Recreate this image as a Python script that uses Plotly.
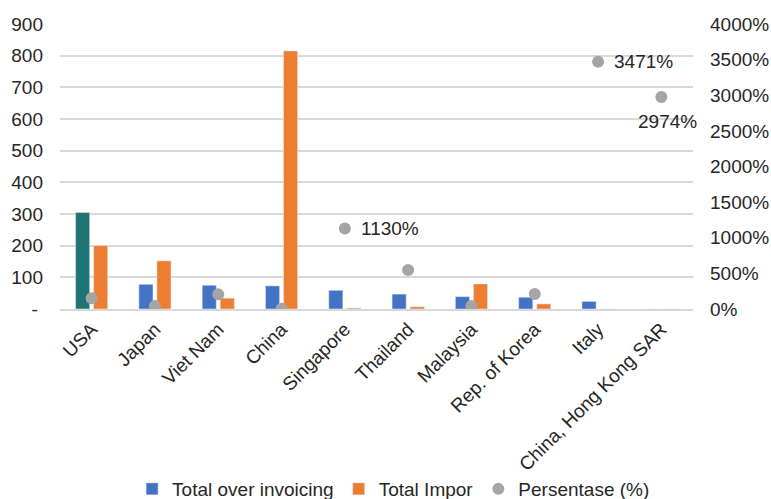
import plotly.graph_objects as go

categories = ["USA", "Japan", "Viet Nam", "China", "Singapore", "Thailand",
              "Malaysia", "Rep. of Korea", "Italy", "China, Hong Kong SAR"]
over_invoicing = [305, 78, 75, 73, 59, 47, 39, 37, 24, 0]
total_impor = [200, 152, 34, 815, 3, 7, 79, 16, 0, 0]
persentase = [150, 42, 206, 4, 1130, 547, 42, 210, 3471, 2974]
pct_labels = ["", "", "", "", "1130%", "", "", "", "3471%", "2974%"]

left_ticks = [0, 100, 200, 300, 400, 500, 600, 700, 800, 900]
left_ticktext = ["-\u00a0"] + [str(v) for v in left_ticks[1:]]
right_ticks = list(range(0, 4001, 500))
right_ticktext = [f"{v}%" for v in right_ticks]

BLUE = "#4472C4"
TEAL = "#1F7373"
ORANGE = "#ED7D31"
GRAY = "#A5A5A5"
TEXT = "#262626"
FONT = "Liberation Sans, Arial, sans-serif"
FS = 19

bar_colors = [TEAL] + [BLUE] * (len(categories) - 1)

fig = go.Figure()
# legend entry for over invoicing (blue)
fig.add_trace(go.Bar(x=[categories[0]], y=[None], name="Total over invoicing",
                     marker_color=BLUE, offsetgroup="a"))
fig.add_trace(go.Bar(x=categories, y=over_invoicing, name="Total over invoicing",
                     marker_color=bar_colors, offsetgroup="a", showlegend=False))
fig.add_trace(go.Bar(x=categories, y=total_impor, name="Total Impor",
                     marker_color=ORANGE, offsetgroup="b"))
fig.add_trace(go.Scatter(x=categories, y=persentase, name="Persentase (%)",
                         mode="markers", yaxis="y2",
                         marker=dict(color=GRAY, size=12)))

for cat, val, lab in zip(categories, persentase, pct_labels):
    if not lab:
        continue
    if cat == "China, Hong Kong SAR":
        fig.add_annotation(x=cat, y=val, yref="y2", text=lab, showarrow=False,
                           xanchor="center", yanchor="top", xshift=6, yshift=-12,
                           font=dict(size=FS, color=TEXT, family=FONT))
    else:
        fig.add_annotation(x=cat, y=val, yref="y2", text=lab, showarrow=False,
                           xanchor="left", yanchor="middle", xshift=14,
                           font=dict(size=FS, color=TEXT, family=FONT))

fig.update_layout(
    width=771, height=499,
    margin=dict(l=60, r=78, t=24, b=190),
    paper_bgcolor="white", plot_bgcolor="white",
    barmode="group", bargap=0.43, bargroupgap=0.22,
    font=dict(family=FONT, size=FS, color=TEXT),
    showlegend=True,
    legend=dict(orientation="h", x=0.527, xanchor="center",
                yref="container", y=0.02, yanchor="middle",
                bgcolor="rgba(0,0,0,0)",
                font=dict(size=FS, family=FONT, color=TEXT),
                itemwidth=30, traceorder="normal"),
    xaxis=dict(tickangle=-45, showgrid=False, showline=True, linecolor="#D9D9D9",
               linewidth=1.5, ticks="", tickfont=dict(size=FS), automargin=False,
               range=[-0.5, len(categories) - 0.5]),
    yaxis=dict(range=[0, 900], tickvals=left_ticks, ticktext=left_ticktext,
               showgrid=True, gridcolor="#D9D9D9", gridwidth=1.5, zeroline=False,
               ticks="", ticklabelstandoff=16, tickfont=dict(size=FS), automargin=False),
    yaxis2=dict(range=[0, 4000], tickvals=right_ticks, ticktext=right_ticktext,
                overlaying="y", side="right", showgrid=False, zeroline=False,
                ticks="", ticklabelstandoff=16, tickfont=dict(size=FS), automargin=False),
)

fig.write_html("out.html")
